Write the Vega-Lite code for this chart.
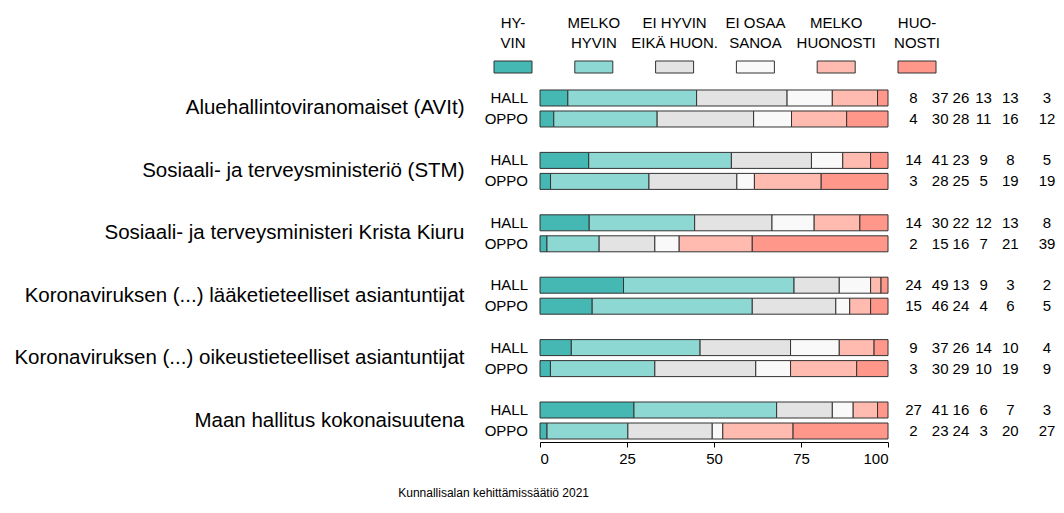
{
  "$schema": "https://vega.github.io/schema/vega-lite/v6.json",
  "padding": {"left": 13, "top": 16, "right": 5, "bottom": 5},
  "config": {
    "view": {"stroke": null},
    "font": "Liberation Sans",
    "text": {"font": "Liberation Sans", "color": "#000"},
    "axis": {"labelFont": "Liberation Sans", "labelColor": "#000"}
  },
  "title": {"text": "Kunnallisalan kehittämissäätiö 2021", "orient": "bottom", "anchor": "middle", "fontSize": 12, "fontWeight": "normal", "font": "Liberation Sans", "color": "#000", "offset": 22, "dx": -41},
  "datasets": {
    "leg": [
      {"r": 1, "label": "HY-\nVIN"},
      {"r": 2, "label": "MELKO\nHYVIN"},
      {"r": 3, "label": "EI HYVIN\nEIKÄ HUON."},
      {"r": 4, "label": "EI OSAA\nSANOA"},
      {"r": 5, "label": "MELKO\nHUONOSTI"},
      {"r": 6, "label": "HUO-\nNOSTI"}
    ],
    "main": [
      {"c": "Aluehallintoviranomaiset (AVIt)", "g": "HALL", "r": 1, "v": 8},
      {"c": "Aluehallintoviranomaiset (AVIt)", "g": "HALL", "r": 2, "v": 37},
      {"c": "Aluehallintoviranomaiset (AVIt)", "g": "HALL", "r": 3, "v": 26},
      {"c": "Aluehallintoviranomaiset (AVIt)", "g": "HALL", "r": 4, "v": 13},
      {"c": "Aluehallintoviranomaiset (AVIt)", "g": "HALL", "r": 5, "v": 13},
      {"c": "Aluehallintoviranomaiset (AVIt)", "g": "HALL", "r": 6, "v": 3},
      {"c": "Aluehallintoviranomaiset (AVIt)", "g": "OPPO", "r": 1, "v": 4},
      {"c": "Aluehallintoviranomaiset (AVIt)", "g": "OPPO", "r": 2, "v": 30},
      {"c": "Aluehallintoviranomaiset (AVIt)", "g": "OPPO", "r": 3, "v": 28},
      {"c": "Aluehallintoviranomaiset (AVIt)", "g": "OPPO", "r": 4, "v": 11},
      {"c": "Aluehallintoviranomaiset (AVIt)", "g": "OPPO", "r": 5, "v": 16},
      {"c": "Aluehallintoviranomaiset (AVIt)", "g": "OPPO", "r": 6, "v": 12},
      {"c": "Sosiaali- ja terveysministeriö (STM)", "g": "HALL", "r": 1, "v": 14},
      {"c": "Sosiaali- ja terveysministeriö (STM)", "g": "HALL", "r": 2, "v": 41},
      {"c": "Sosiaali- ja terveysministeriö (STM)", "g": "HALL", "r": 3, "v": 23},
      {"c": "Sosiaali- ja terveysministeriö (STM)", "g": "HALL", "r": 4, "v": 9},
      {"c": "Sosiaali- ja terveysministeriö (STM)", "g": "HALL", "r": 5, "v": 8},
      {"c": "Sosiaali- ja terveysministeriö (STM)", "g": "HALL", "r": 6, "v": 5},
      {"c": "Sosiaali- ja terveysministeriö (STM)", "g": "OPPO", "r": 1, "v": 3},
      {"c": "Sosiaali- ja terveysministeriö (STM)", "g": "OPPO", "r": 2, "v": 28},
      {"c": "Sosiaali- ja terveysministeriö (STM)", "g": "OPPO", "r": 3, "v": 25},
      {"c": "Sosiaali- ja terveysministeriö (STM)", "g": "OPPO", "r": 4, "v": 5},
      {"c": "Sosiaali- ja terveysministeriö (STM)", "g": "OPPO", "r": 5, "v": 19},
      {"c": "Sosiaali- ja terveysministeriö (STM)", "g": "OPPO", "r": 6, "v": 19},
      {"c": "Sosiaali- ja terveysministeri Krista Kiuru", "g": "HALL", "r": 1, "v": 14},
      {"c": "Sosiaali- ja terveysministeri Krista Kiuru", "g": "HALL", "r": 2, "v": 30},
      {"c": "Sosiaali- ja terveysministeri Krista Kiuru", "g": "HALL", "r": 3, "v": 22},
      {"c": "Sosiaali- ja terveysministeri Krista Kiuru", "g": "HALL", "r": 4, "v": 12},
      {"c": "Sosiaali- ja terveysministeri Krista Kiuru", "g": "HALL", "r": 5, "v": 13},
      {"c": "Sosiaali- ja terveysministeri Krista Kiuru", "g": "HALL", "r": 6, "v": 8},
      {"c": "Sosiaali- ja terveysministeri Krista Kiuru", "g": "OPPO", "r": 1, "v": 2},
      {"c": "Sosiaali- ja terveysministeri Krista Kiuru", "g": "OPPO", "r": 2, "v": 15},
      {"c": "Sosiaali- ja terveysministeri Krista Kiuru", "g": "OPPO", "r": 3, "v": 16},
      {"c": "Sosiaali- ja terveysministeri Krista Kiuru", "g": "OPPO", "r": 4, "v": 7},
      {"c": "Sosiaali- ja terveysministeri Krista Kiuru", "g": "OPPO", "r": 5, "v": 21},
      {"c": "Sosiaali- ja terveysministeri Krista Kiuru", "g": "OPPO", "r": 6, "v": 39},
      {"c": "Koronaviruksen (...) lääketieteelliset asiantuntijat", "g": "HALL", "r": 1, "v": 24},
      {"c": "Koronaviruksen (...) lääketieteelliset asiantuntijat", "g": "HALL", "r": 2, "v": 49},
      {"c": "Koronaviruksen (...) lääketieteelliset asiantuntijat", "g": "HALL", "r": 3, "v": 13},
      {"c": "Koronaviruksen (...) lääketieteelliset asiantuntijat", "g": "HALL", "r": 4, "v": 9},
      {"c": "Koronaviruksen (...) lääketieteelliset asiantuntijat", "g": "HALL", "r": 5, "v": 3},
      {"c": "Koronaviruksen (...) lääketieteelliset asiantuntijat", "g": "HALL", "r": 6, "v": 2},
      {"c": "Koronaviruksen (...) lääketieteelliset asiantuntijat", "g": "OPPO", "r": 1, "v": 15},
      {"c": "Koronaviruksen (...) lääketieteelliset asiantuntijat", "g": "OPPO", "r": 2, "v": 46},
      {"c": "Koronaviruksen (...) lääketieteelliset asiantuntijat", "g": "OPPO", "r": 3, "v": 24},
      {"c": "Koronaviruksen (...) lääketieteelliset asiantuntijat", "g": "OPPO", "r": 4, "v": 4},
      {"c": "Koronaviruksen (...) lääketieteelliset asiantuntijat", "g": "OPPO", "r": 5, "v": 6},
      {"c": "Koronaviruksen (...) lääketieteelliset asiantuntijat", "g": "OPPO", "r": 6, "v": 5},
      {"c": "Koronaviruksen (...) oikeustieteelliset asiantuntijat", "g": "HALL", "r": 1, "v": 9},
      {"c": "Koronaviruksen (...) oikeustieteelliset asiantuntijat", "g": "HALL", "r": 2, "v": 37},
      {"c": "Koronaviruksen (...) oikeustieteelliset asiantuntijat", "g": "HALL", "r": 3, "v": 26},
      {"c": "Koronaviruksen (...) oikeustieteelliset asiantuntijat", "g": "HALL", "r": 4, "v": 14},
      {"c": "Koronaviruksen (...) oikeustieteelliset asiantuntijat", "g": "HALL", "r": 5, "v": 10},
      {"c": "Koronaviruksen (...) oikeustieteelliset asiantuntijat", "g": "HALL", "r": 6, "v": 4},
      {"c": "Koronaviruksen (...) oikeustieteelliset asiantuntijat", "g": "OPPO", "r": 1, "v": 3},
      {"c": "Koronaviruksen (...) oikeustieteelliset asiantuntijat", "g": "OPPO", "r": 2, "v": 30},
      {"c": "Koronaviruksen (...) oikeustieteelliset asiantuntijat", "g": "OPPO", "r": 3, "v": 29},
      {"c": "Koronaviruksen (...) oikeustieteelliset asiantuntijat", "g": "OPPO", "r": 4, "v": 10},
      {"c": "Koronaviruksen (...) oikeustieteelliset asiantuntijat", "g": "OPPO", "r": 5, "v": 19},
      {"c": "Koronaviruksen (...) oikeustieteelliset asiantuntijat", "g": "OPPO", "r": 6, "v": 9},
      {"c": "Maan hallitus kokonaisuutena", "g": "HALL", "r": 1, "v": 27},
      {"c": "Maan hallitus kokonaisuutena", "g": "HALL", "r": 2, "v": 41},
      {"c": "Maan hallitus kokonaisuutena", "g": "HALL", "r": 3, "v": 16},
      {"c": "Maan hallitus kokonaisuutena", "g": "HALL", "r": 4, "v": 6},
      {"c": "Maan hallitus kokonaisuutena", "g": "HALL", "r": 5, "v": 7},
      {"c": "Maan hallitus kokonaisuutena", "g": "HALL", "r": 6, "v": 3},
      {"c": "Maan hallitus kokonaisuutena", "g": "OPPO", "r": 1, "v": 2},
      {"c": "Maan hallitus kokonaisuutena", "g": "OPPO", "r": 2, "v": 23},
      {"c": "Maan hallitus kokonaisuutena", "g": "OPPO", "r": 3, "v": 24},
      {"c": "Maan hallitus kokonaisuutena", "g": "OPPO", "r": 4, "v": 3},
      {"c": "Maan hallitus kokonaisuutena", "g": "OPPO", "r": 5, "v": 20},
      {"c": "Maan hallitus kokonaisuutena", "g": "OPPO", "r": 6, "v": 27}
    ]
  },
  "spacing": 11,
  "vconcat": [
    {
      "width": 348,
      "height": 12,
      "data": {"name": "leg"},
      "layer": [
        {
          "mark": {"type": "point", "shape": "M-1,-0.3158L1,-0.3158L1,0.3158L-1,0.3158Z", "size": 1444, "filled": true, "opacity": 1, "stroke": "#333", "strokeWidth": 1},
          "encoding": {
            "x": {"field": "r", "type": "ordinal", "scale": {"type": "point", "range": [-27, 377], "padding": 0}, "axis": null},
            "color": {"field": "r", "type": "ordinal", "legend": null}
          }
        },
        {
          "mark": {"type": "text", "lineBreak": "\n", "fontSize": 15, "baseline": "middle", "align": "center", "dy": -44, "lineHeight": 20},
          "encoding": {
            "x": {"field": "r", "type": "ordinal", "axis": null},
            "text": {"field": "label"}
          }
        }
      ]
    },
    {
      "width": 348,
      "height": 355,
      "data": {"name": "main"},
      "resolve": {"scale": {"x": "independent"}, "axis": {"x": "independent"}},
      "layer": [
        {
          "layer": [
            {
              "mark": {"type": "bar", "stroke": "#333", "strokeWidth": 1},
              "encoding": {
                "y": {"field": "c", "type": "nominal", "sort": null, "scale": {"type": "band", "paddingInner": 0.407, "paddingOuter": 0.048}, "axis": {"title": null, "ticks": false, "domain": false, "labelPadding": 76, "labelFontSize": 20.5, "labelLimit": 700, "labelColor": "#000"}},
                "yOffset": {"field": "g", "type": "nominal", "sort": ["HALL", "OPPO"], "scale": {"paddingInner": 0.238, "paddingOuter": 0}},
                "x": {"field": "v", "type": "quantitative", "stack": "normalize", "scale": {"domain": [0, 1], "nice": false}, "axis": {"title": null, "values": [0, 0.25, 0.5, 0.75, 1], "labelExpr": "format(datum.value*100, 'd')", "grid": false, "tickSize": 5, "tickColor": "#000", "domainColor": "#000", "labelFontSize": 15, "labelPadding": 4, "labelColor": "#000"}},
                "color": {"field": "r", "type": "ordinal", "scale": {"domain": [1, 2, 3, 4, 5, 6], "range": ["#45B8B4", "#8ED8D3", "#E3E3E3", "#F9F9F9", "#FFBBAF", "#FF978A"]}, "legend": null},
                "order": {"field": "r", "type": "ordinal"}
              }
            },
            {
              "transform": [{"filter": "datum.r == 1"}],
              "mark": {"type": "text", "align": "right", "baseline": "middle", "dx": -12, "fontSize": 15},
              "encoding": {
                "x": {"datum": 0},
                "y": {"field": "c", "type": "nominal", "sort": null},
                "yOffset": {"field": "g", "type": "nominal", "sort": ["HALL", "OPPO"]},
                "text": {"field": "g"}
              }
            }
          ]
        },
        {
          "encoding": {
            "y": {"field": "c", "type": "nominal", "sort": null},
            "yOffset": {"field": "g", "type": "nominal", "sort": ["HALL", "OPPO"]},
            "x": {"field": "r", "type": "ordinal", "scale": {"type": "point", "range": [373.5, 507], "padding": 0}, "axis": null},
            "text": {"field": "v"}
          },
          "layer": [
            {
              "transform": [{"filter": "datum.r == 1 || datum.r == 2 || datum.r == 6"}],
              "mark": {"type": "text", "fontSize": 15, "baseline": "middle", "align": "center"}
            },
            {
              "transform": [{"filter": "datum.r == 3"}],
              "mark": {"type": "text", "fontSize": 15, "baseline": "middle", "align": "center", "dx": -6}
            },
            {
              "transform": [{"filter": "datum.r == 4 || datum.r == 5"}],
              "mark": {"type": "text", "fontSize": 15, "baseline": "middle", "align": "center", "dx": -10}
            }
          ]
        }
      ]
    }
  ]
}
